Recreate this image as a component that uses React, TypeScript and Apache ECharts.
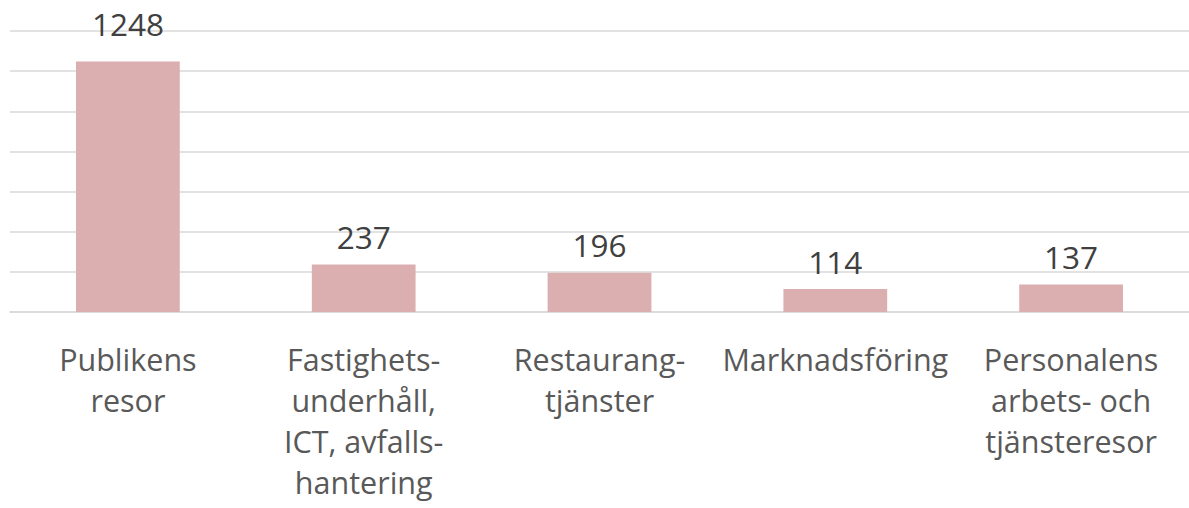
import React, { useEffect, useRef } from "react";
import * as echarts from "echarts";

const categories = [
  "Publikens\nresor",
  "Fastighets-\nunderhåll,\nICT, avfalls-\nhantering",
  "Restaurang-\ntjänster",
  "Marknadsföring",
  "Personalens\narbets- och\ntjänsteresor",
];
const values = [1248, 237, 196, 114, 137];
const yMin = 0;
const yMax = 1400;
const yInterval = 200;

export default function App() {
  const ref = useRef<HTMLDivElement>(null);
  useEffect(() => {
    document.body.style.margin = "0";
    const chart = echarts.init(ref.current!, undefined, { renderer: "svg" });
    chart.setOption({
      animation: false,
      grid: { left: 10, width: 1187, top: 31, bottom: 196 },
      xAxis: {
        type: "category",
        data: categories,
        axisLine: { show: true, lineStyle: { color: "#d9d9d9", width: 1.5 } },
        axisTick: { show: false },
        axisLabel: {
          interval: 0,
          margin: 26,
          fontFamily: "Open Sans",
          fontSize: 30.5,
          lineHeight: 41,
          color: "#595959",
          align: "center",
        },
      },
      yAxis: {
        type: "value",
        min: yMin,
        max: yMax,
        interval: yInterval,
        axisLabel: { show: false },
        axisLine: { show: false },
        axisTick: { show: false },
        splitLine: { lineStyle: { color: "#d9d9d9", width: 1.5 } },
      },
      series: [
        {
          type: "bar",
          data: values.map((v, i) =>
            i === 0 ? { value: v, label: { distance: 22 } } : v
          ),
          barWidth: "44%",
          itemStyle: { color: "#dbaeb0" },
          label: {
            show: true,
            position: "top",
            distance: 12,
            fontFamily: "Open Sans",
            fontSize: 31.5,
            color: "#404040",
          },
        },
      ],
    });
    return () => chart.dispose();
  }, []);
  return (
    <div
      ref={ref}
      style={{ position: "absolute", left: 0, top: 0, width: 1189, height: 508, background: "#fff" }}
    />
  );
}
